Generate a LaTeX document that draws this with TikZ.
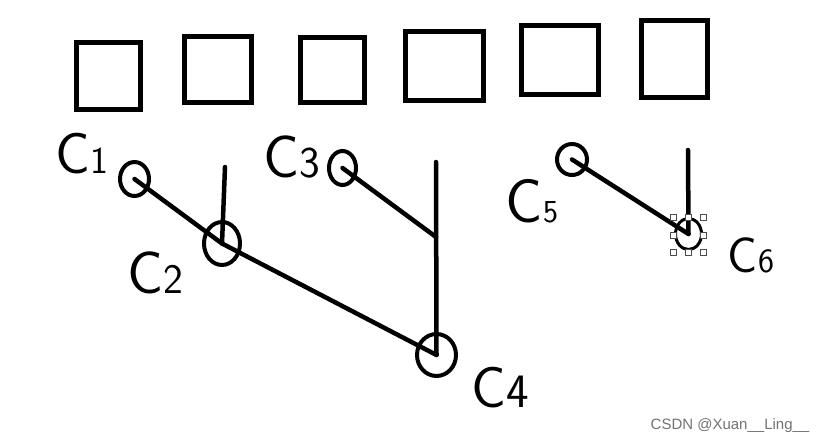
\documentclass[tikz,border=0pt]{standalone}
\usepackage{fontspec}
\setmainfont{Liberation Sans}
\usetikzlibrary{shapes.geometric}
\begin{document}
\begin{tikzpicture}[x=1pt,y=-1pt,
  sqbox/.style={draw=black,line width=5pt,inner sep=0pt,outer sep=0pt,rectangle},
  ring/.style={draw=black,line width=4pt,ellipse,inner sep=0pt,outer sep=0pt},
  pen/.style={black,line width=4.5pt,line cap=round},
  lbl/.style={inner sep=0pt,font=\sffamily},
  handle/.style={draw=gray!60!black,fill=white,line width=1pt,minimum size=6pt,inner sep=0pt,rectangle},
  wmark/.style={text=gray!90!black,font=\fontsize{15}{15}\selectfont,inner sep=0pt}]
\useasboundingbox[fill=white] (0,0) rectangle (833,444);
% top squares
\node[sqbox,minimum width=64pt,minimum height=67pt] (b1) at (108.5,76) {};
\node[sqbox,minimum width=67pt,minimum height=66pt] (b2) at (218,69.5) {};
\node[sqbox,minimum width=64pt,minimum height=65pt] (b3) at (332.5,70) {};
\node[sqbox,minimum width=78pt,minimum height=69pt] (b4) at (444.5,66) {};
\node[sqbox,minimum width=77pt,minimum height=69pt] (b5) at (560,60) {};
\node[sqbox,minimum width=66pt,minimum height=77pt] (b6) at (674.5,59) {};
% circles
\node[ring,minimum width=29pt,minimum height=34pt] (c1) at (134.5,179) {};
\node[ring,minimum width=36pt,minimum height=43pt] (c2) at (222,243.5) {};
\node[ring,minimum width=27pt,minimum height=34pt] (c3) at (342.5,168) {};
\node[ring,minimum width=39pt,minimum height=42pt] (c4) at (436.5,355) {};
\node[ring,minimum width=30pt,minimum height=31pt] (c5) at (572,159.5) {};
\node[ring,line width=3pt,minimum width=26pt,minimum height=31pt] (c6) at (688.5,234) {};
% free ends
\coordinate (t2) at (225,167);
\coordinate (t4) at (436,162);
\coordinate (j3) at (436,237);
\coordinate (t6) at (688,150);
% connectors
\draw[pen] (c1.center) -- (c2.center) -- (c4.center);
\draw[pen] (t2) -- (c2.center);
\draw[pen] (t4) -- (c4.center);
\draw[pen] (c3.center) -- (j3);
\draw[pen] (c5.center) -- (c6.center);
\draw[pen] (t6) -- (c6.center);
% selection handles around C6
\node[handle] (h1) at (673,217) {};
\node[handle] (h2) at (688,217) {};
\node[handle] (h3) at (703,217) {};
\node[handle] (h4) at (673,235) {};
\node[handle] (h5) at (703,235) {};
\node[handle] (h6) at (673,252) {};
\node[handle] (h7) at (688,252) {};
\node[handle] (h8) at (703,252) {};
% labels
\node[lbl] (l1) at (82,154) {\fontsize{58}{58}\selectfont C\fontsize{38}{38}\selectfont 1};
\node[lbl] (l2) at (155,273) {\fontsize{60}{60}\selectfont C\fontsize{42}{42}\selectfont 2};
\node[lbl] (l3) at (292,157) {\fontsize{60}{60}\selectfont C\fontsize{44}{44}\selectfont 3};
\node[lbl] (l4) at (500,388) {\fontsize{58}{58}\selectfont C\fontsize{48}{48}\selectfont 4};
\node[lbl] (l5) at (532,201) {\fontsize{62}{62}\selectfont C\fontsize{32}{32}\selectfont 5};
\node[lbl] (l6) at (751,255) {\fontsize{50}{50}\selectfont C\fontsize{34}{34}\selectfont 6};
% watermark
\node[wmark] (wm) at (730,426) {CSDN @Xuan\_\_Ling\_\_};
\end{tikzpicture}
\end{document}
